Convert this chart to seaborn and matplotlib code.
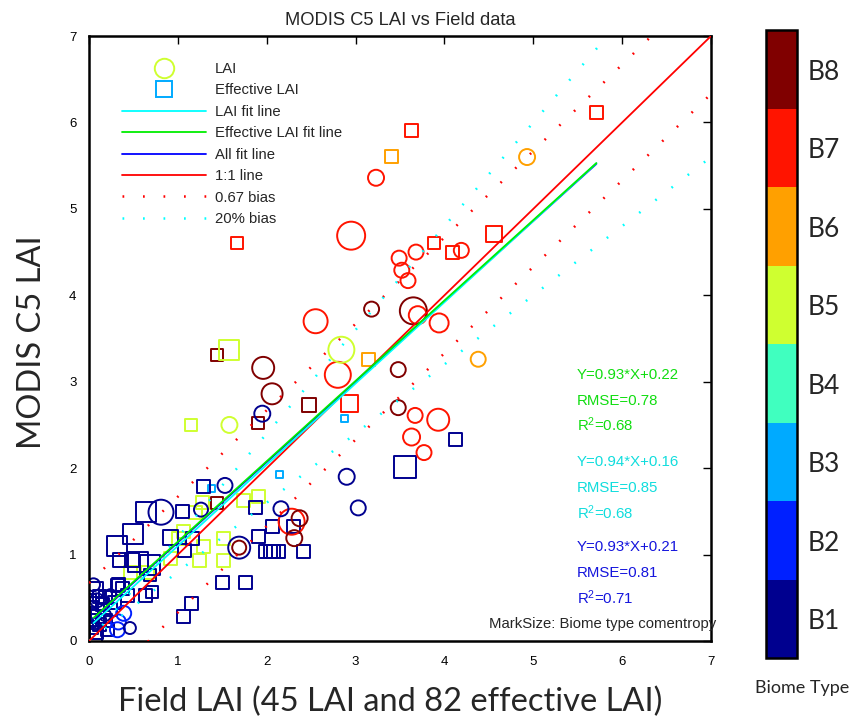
import numpy as np
import pandas as pd
import matplotlib
matplotlib.use("Agg")
import matplotlib.pyplot as plt
from matplotlib.colors import ListedColormap, BoundaryNorm
from matplotlib.cm import ScalarMappable
from matplotlib.lines import Line2D
import seaborn as sns

# ---- data ----
# LAI (circles): field LAI, MODIS LAI, biome type, mark size (comentropy, px)
lai_field = [2.95, 3.23, 2.55, 2.80, 3.49, 3.68, 3.52, 3.59, 4.19, 3.70, 3.94, 3.67, 3.93, 3.63, 3.77, 2.28,
             1.96, 2.06, 3.65, 3.18, 3.48, 3.48, 2.37, 2.31, 1.69,
             2.84, 1.58,
             4.93, 4.38,
             1.95, 2.90, 3.03, 1.53, 2.16, 0.81, 1.69, 1.26,
             0.39, 0.32, 0.33,
             0.09, 0.18, 0.24, 0.05, 0.46]
lai_modis = [4.69, 5.36, 3.70, 3.08, 4.43, 4.50, 4.29, 4.17, 4.52, 3.77, 3.68, 2.61, 2.56, 2.36, 2.18, 1.38,
             3.16, 2.86, 3.82, 3.84, 3.14, 2.70, 1.42, 1.19, 1.08,
             3.37, 2.50,
             5.60, 3.26,
             2.63, 1.90, 1.54, 1.80, 1.53, 1.49, 1.08, 1.52,
             0.32, 0.13, 0.22,
             0.47, 0.30, 0.53, 0.65, 0.15]
lai_biome = [7] * 16 + [8] * 9 + [5] * 2 + [6] * 2 + [1] * 8 + [2] * 3 + [1] * 5
lai_mark = [28, 16, 24, 26, 15, 15, 15, 15, 15, 18, 19, 15, 22, 17, 15, 26,
            22, 21, 27, 15, 15, 15, 16, 16, 14,
            26, 16,
            16, 15,
            16, 16, 15, 15, 15, 25, 22, 14,
            15, 15, 15,
            14, 12, 12, 13, 12]

# Effective LAI (squares)
eff_field = [5.71, 3.63, 4.56, 3.88, 4.09, 1.67, 2.93,
             1.44, 2.48, 1.90, 1.44,
             3.40, 3.14,
             2.87, 2.14, 1.38,
             0.47, 0.66, 0.92, 1.06, 1.01, 1.28, 1.20, 1.51, 1.29, 1.24, 1.51, 1.74, 1.91, 1.15, 1.58,
             1.29, 1.05, 0.64, 0.50, 0.32, 0.92, 1.08, 1.17, 0.55, 0.69, 0.69, 0.63, 0.71, 0.32,
             1.87, 1.91, 2.07, 2.30, 1.99, 2.04, 2.08, 2.13, 2.41, 1.50, 1.76, 1.15, 1.06, 3.56, 4.12,
             0.07, 0.12, 0.03, 0.10, 0.03, 0.15, 0.03, 0.12, 0.33, 0.43, 0.38, 0.18, 0.48, 0.35, 0.24,
             0.08, 0.18, 0.00, 0.01, 0.21, 0.29, 0.07]
eff_modis = [6.11, 5.91, 4.71, 4.60, 4.49, 4.60, 2.75,
             3.31, 2.73, 2.52, 1.60,
             5.61, 3.26,
             2.58, 1.93, 1.77,
             0.79, 0.79, 0.95, 1.27, 1.18, 1.60, 1.49, 1.18, 1.09, 0.93, 0.93, 1.62, 1.67, 2.50, 3.37,
             1.79, 1.50, 1.49, 1.24, 1.10, 1.20, 1.05, 1.19, 0.91, 0.88, 0.76, 0.53, 0.57, 0.64,
             1.55, 1.21, 1.32, 1.32, 1.04, 1.04, 1.04, 1.04, 1.04, 0.68, 0.68, 0.43, 0.28, 2.01, 2.33,
             0.59, 0.51, 0.39, 0.28, 0.16, 0.42, 0.30, 0.19, 0.65, 0.53, 0.61, 0.50, 0.94, 0.94, 0.36,
             0.10, 0.24, 0.24, 0.47, 0.13, 0.44, 0.06]
eff_biome = [7] * 7 + [8] * 4 + [6] * 2 + [3] * 3 + [5] * 15 + [1] * 51
eff_mark = [13, 13, 16, 12, 13, 12, 17,
            12, 14, 12, 12,
            13, 13,
            7, 7, 7,
            13, 13, 13, 13, 13, 13, 13, 13, 13, 13, 13, 13, 13, 12, 20,
            13, 13, 20, 20, 20, 15, 13, 13, 20, 20, 12, 13, 12, 13,
            13, 13, 13, 13, 13, 13, 13, 13, 13, 13, 13, 13, 13, 22, 13,
            15, 13, 13, 13, 13, 13, 13, 13, 13, 13, 13, 13, 14, 14, 13,
            13, 13, 13, 13, 13, 13, 13]

# fit results
fit_lai = (0.94, 0.16)
fit_eff = (0.93, 0.22)
fit_all = (0.93, 0.21)
fit_xrange = [0.05, 5.71]
abs_bias = 0.67
rel_bias = 0.20

stats_eff = ["Y=0.93*X+0.22", "RMSE=0.78", "R$^2$=0.68"]
stats_lai = ["Y=0.94*X+0.16", "RMSE=0.85", "R$^2$=0.68"]
stats_all = ["Y=0.93*X+0.21", "RMSE=0.81", "R$^2$=0.71"]

biome_labels = ["B1", "B2", "B3", "B4", "B5", "B6", "B7", "B8"]
biome_colors = ["#00008F", "#0020FF", "#00AAFF", "#40FFBF", "#CFFF30", "#FFA000", "#FF1400", "#800000"]

# ---- style ----
sns.set_theme(style="white")
plt.rcParams["font.family"] = ["Liberation Sans", "DejaVu Sans"]
plt.rcParams["mathtext.default"] = "regular"
big_font = ["Lato", "DejaVu Sans"]

lai_df = pd.DataFrame({"field": lai_field, "modis": lai_modis, "biome": lai_biome, "mark": lai_mark})
eff_df = pd.DataFrame({"field": eff_field, "modis": eff_modis, "biome": eff_biome, "mark": eff_mark})
palette = {i + 1: c for i, c in enumerate(biome_colors)}

fig = plt.figure(figsize=(8.52, 7.21), dpi=100)
ax = fig.add_axes([0.1045, 0.111, 0.730, 0.839])


def hollow_scatter(df, marker):
    sizes = {m: (0.72 * m) ** 2 for m in df["mark"].unique()}
    sns.scatterplot(data=df, x="field", y="modis", hue="biome", size="mark", sizes=sizes,
                    palette=palette, marker=marker, legend=False, ax=ax, zorder=2)
    coll = ax.collections[-1]
    fc = coll.get_facecolors()
    coll.set_edgecolors(fc)
    coll.set_facecolors("none")
    coll.set_linewidths(1.4)


hollow_scatter(eff_df, "s")
hollow_scatter(lai_df, "o")

xx = np.linspace(0, 7, 50)
fx = np.linspace(fit_xrange[0], fit_xrange[1], 50)
dot = (0, (0.7, 7.5))
ax.plot(xx, xx + abs_bias, color="red", lw=1.8, ls=dot, zorder=3)
ax.plot(xx, xx - abs_bias, color="red", lw=1.8, ls=dot, zorder=3)
ax.plot(xx, xx * (1 + rel_bias), color="cyan", lw=1.8, ls=dot, zorder=3)
ax.plot(xx, xx * (1 - rel_bias), color="cyan", lw=1.8, ls=dot, zorder=3)
ax.plot(xx, xx, color="red", lw=1.3, zorder=4)
ax.plot(fx, fit_all[0] * fx + fit_all[1], color="blue", lw=1.3, zorder=4)
ax.plot(fx, fit_lai[0] * fx + fit_lai[1], color="cyan", lw=1.3, zorder=4)
ax.plot(fx, fit_eff[0] * fx + fit_eff[1], color="#00EE00", lw=1.3, zorder=4)

ax.set_xlim(0, 7)
ax.set_ylim(0, 7)
ax.set_xticks(range(8))
ax.set_yticks(range(8))
ax.tick_params(direction="in", length=6, width=1, top=True, right=True, labelsize=9.5, colors="black")
ax.tick_params(axis="x", pad=11)
ax.tick_params(axis="y", pad=9)
for sp in ax.spines.values():
    sp.set_linewidth(1.8)
    sp.set_color("black")

ax.set_title("MODIS C5 LAI vs Field data", fontsize=13.2, pad=8)
ax.set_xlabel("Field LAI (45 LAI and 82 effective LAI)", fontsize=23.5, family=big_font)
ax.set_ylabel("MODIS C5 LAI", fontsize=23.5, family=big_font)
ax.xaxis.set_label_coords(0.484, -0.076)
ax.yaxis.set_label_coords(-0.068, 0.494)

# stats text
text_x = 5.49
for lines, color, ys in [(stats_eff, "#11DD11", [3.08, 2.78, 2.50]),
                         (stats_lai, "#11DDDD", [2.07, 1.77, 1.49]),
                         (stats_all, "#1515DD", [1.09, 0.79, 0.50])]:
    for s, yv in zip(lines, ys):
        ax.text(text_x, yv, s, color=color, fontsize=10.8, va="center", ha="left")
ax.text(4.50, 0.20, "MarkSize: Biome type comentropy", fontsize=10.7, va="center", ha="left", clip_on=False)

# legend
handles = [
    Line2D([], [], ls="none", marker="o", ms=14, mfc="none", mec=biome_colors[4], mew=1.4),
    Line2D([], [], ls="none", marker="s", ms=11.5, mfc="none", mec=biome_colors[2], mew=1.4),
    Line2D([], [], color="cyan", lw=1.3),
    Line2D([], [], color="#00EE00", lw=1.3),
    Line2D([], [], color="blue", lw=1.3),
    Line2D([], [], color="red", lw=1.3),
    Line2D([], [], color="red", lw=1.8, ls=dot),
    Line2D([], [], color="cyan", lw=1.8, ls=dot),
]
labels = ["LAI", "Effective LAI", "LAI fit line", "Effective LAI fit line", "All fit line",
          "1:1 line", "0.67 bias", "20% bias"]
ax.legend(handles, labels, loc="upper left", bbox_to_anchor=(0.053, 0.957), frameon=False,
          fontsize=10.7, handlelength=5.65, handletextpad=0.6, labelspacing=0.5,
          borderaxespad=0, borderpad=0, numpoints=1)

# colorbar
cax = fig.add_axes([0.899, 0.087, 0.036, 0.871])
cmap = ListedColormap(biome_colors)
norm = BoundaryNorm(np.arange(0.5, 9.5, 1), cmap.N)
cb = fig.colorbar(ScalarMappable(norm=norm, cmap=cmap), cax=cax, ticks=range(1, 9))
cb.ax.set_yticklabels(biome_labels, family=big_font, fontsize=19)
cb.ax.tick_params(length=0, pad=8)
cb.ax.set_yticks(0.5 + 8 * np.arange(1, 6) / 6, minor=True)
cb.ax.tick_params(which="minor", direction="in", length=5, width=1, left=True, right=True, color="black")
cb.outline.set_linewidth(1.8)
cb.outline.set_edgecolor("black")
fig.text(0.997, 0.046, "Biome Type", ha="right", va="center", fontsize=13, family=big_font)

fig.savefig("out.png", dpi=100, facecolor="white")
